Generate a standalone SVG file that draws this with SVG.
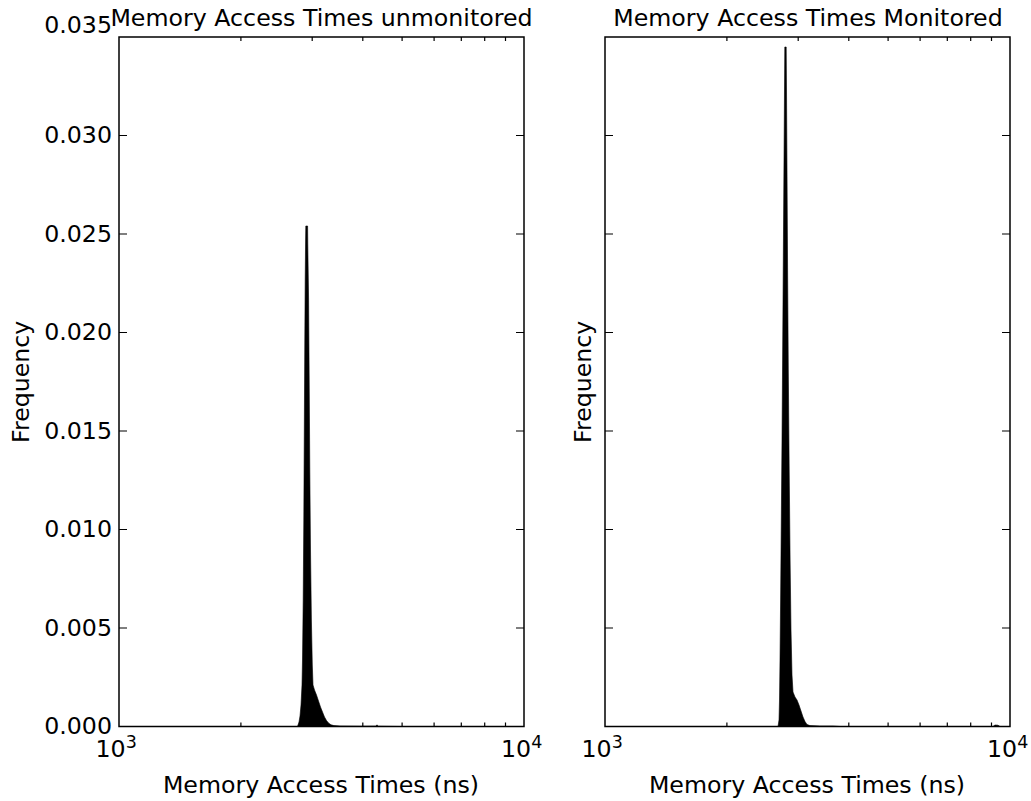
<svg xmlns="http://www.w3.org/2000/svg" width="1031" height="801" viewBox="0 0 1031 801">
  <style>
    text { font-family: "DejaVu Sans", "Liberation Sans", sans-serif; fill: #000; }
    .lbl { font-size: 23.7px; }
    .tick { font-size: 23.7px; }
    .ytick { font-size: 23.7px; text-anchor: end; }
    .sup { font-size: 17.5px; }
    .mid { text-anchor: middle; }
    .spine { fill: none; stroke: #000; stroke-width: 1.5; }
    .tk { stroke: #000; stroke-width: 1.2; fill: none; }
    .hist { fill: #000; stroke: #000; stroke-width: 0.6; stroke-linejoin: round; }
  </style>
  <defs>
    <!-- frame ticks shared by both panels (panel local coords: x 0..405, y 0..689.5) -->
    <g id="frameTicks">
      <!-- major y ticks, left and right spines, pointing inward -->
      <path class="tk" d="M0 98.5h8M0 197h8M0 295.5h8M0 394h8M0 492.5h8M0 591h8
                         M405 98.5h-8M405 197h-8M405 295.5h-8M405 394h-8M405 492.5h-8M405 591h-8"/>
      <!-- minor log ticks (2..9) on bottom and top spines -->
      <path class="tk" d="M121.9 689.5v-4M193.2 689.5v-4M243.8 689.5v-4M283.1 689.5v-4M315.1 689.5v-4M342.3 689.5v-4M365.7 689.5v-4M386.5 689.5v-4
                         M121.9 0v4M193.2 0v4M243.8 0v4M283.1 0v4M315.1 0v4M342.3 0v4M365.7 0v4M386.5 0v4"/>
    </g>
  </defs>

  <rect width="1031" height="801" fill="#fff"/>

  <!-- Left panel: unmonitored -->
  <g id="panel-unmonitored">
    <path class="hist" d="M297.5 726.5 L299 722 L300 716 L301 705 L302 685 L302.5 660 L303.2 600 L303.8 520 L304.3 430 L304.8 340 L305.2 280 L305.6 240 L305.8 226 L307.6 226 L307.8 245 L308.6 300 L309.2 380 L309.8 470 L310.5 550 L311.4 620 L312.3 665 L313 685 L314.5 690 L316.5 695 L318.5 701 L320.5 707 L322.5 712 L324.5 717 L326.5 720.5 L328.5 723 L331 724.8 L334 725.6 L340 726 L360 726.2 L376 726.1 L377 724.8 L378 726.2 L400 726.5 Z"/>
    <g transform="translate(119,37)">
      <use href="#frameTicks"/>
      <rect class="spine" x="0" y="0" width="405" height="689.5"/>
    </g>
    <text class="lbl mid" x="321.5" y="26">Memory Access Times unmonitored</text>
    <g id="yticks-left">
      <text class="ytick" x="112" y="734">0.000</text>
      <text class="ytick" x="112" y="635.5">0.005</text>
      <text class="ytick" x="112" y="537">0.010</text>
      <text class="ytick" x="112" y="438.5">0.015</text>
      <text class="ytick" x="112" y="340">0.020</text>
      <text class="ytick" x="112" y="241.5">0.025</text>
      <text class="ytick" x="112" y="143">0.030</text>
      <text class="ytick" x="112" y="33">0.035</text>
    </g>
    <text class="tick" x="95.5" y="756.5">10<tspan class="sup" dy="-9">3</tspan></text>
    <text class="tick" x="501" y="756.5">10<tspan class="sup" dy="-9">4</tspan></text>
    <text class="lbl mid" transform="translate(28.5,381.8) rotate(-90)">Frequency</text>
    <text class="lbl mid" x="321" y="792.5">Memory Access Times (ns)</text>
  </g>

  <!-- Right panel: monitored -->
  <g id="panel-monitored">
    <path class="hist" d="M778 726.5 L779 720 L779.5 700 L780 660 L780.6 600 L781.3 520 L782 440 L782.6 360 L783.3 260 L784 160 L784.5 90 L784.8 47 L786.2 47 L786.5 90 L787 170 L787.6 270 L788.3 370 L789.2 470 L790.1 560 L791 630 L792 675 L793 692 L795 697 L797 700 L799 705 L801 711 L803 717 L805 721.5 L807 724.5 L810 725.6 L820 726 L833 726 L840 726.5 Z"/>
    <path class="hist" d="M993 726.5 L995 725 L998 725.2 L1000 726.5 Z"/>
    <g transform="translate(605,37)">
      <use href="#frameTicks"/>
      <rect class="spine" x="0" y="0" width="405" height="689.5"/>
    </g>
    <text class="lbl mid" x="808" y="26">Memory Access Times Monitored</text>
    <text class="tick" x="581.5" y="756.5">10<tspan class="sup" dy="-9">3</tspan></text>
    <text class="tick" x="987" y="756.5">10<tspan class="sup" dy="-9">4</tspan></text>
    <text class="lbl mid" transform="translate(591,381.8) rotate(-90)">Frequency</text>
    <text class="lbl mid" x="807" y="792.5">Memory Access Times (ns)</text>
  </g>
</svg>
